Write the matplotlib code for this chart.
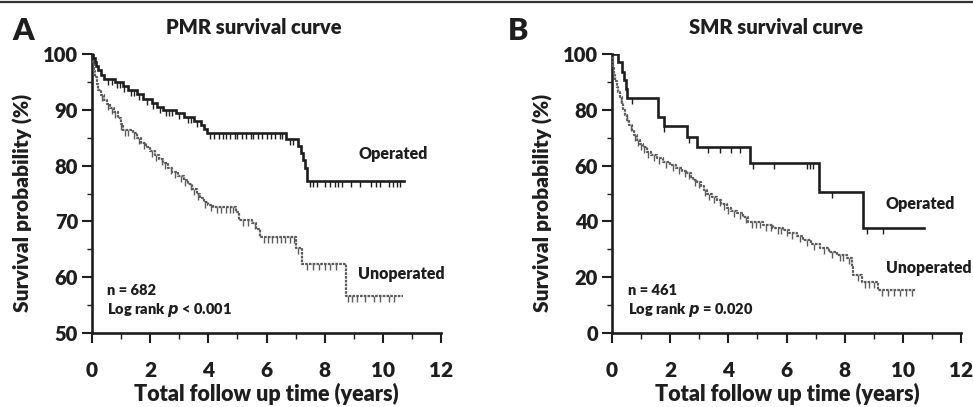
import numpy as np
import matplotlib
matplotlib.use("Agg")
import matplotlib.pyplot as plt
from matplotlib.lines import Line2D
from matplotlib.ticker import MultipleLocator

plt.rcParams['font.family'] = ['Lato', 'DejaVu Sans']
plt.rcParams['font.weight'] = 'bold'

# ---------------- Data ----------------
# Panel A: PMR
pmr_op_t = [0, 0.05, 0.10, 0.15, 0.22, 0.30, 0.40, 0.80, 1.05, 1.25, 1.55, 1.75, 2.05, 2.25, 2.45,
            2.90, 3.15, 3.50, 3.75, 3.85, 3.95, 6.67, 7.10, 7.20, 7.27, 7.32, 7.38, 10.73]
pmr_op_s = [100, 99.3, 98.6, 97.9, 97.1, 96.3, 95.5, 95.0, 94.3, 93.6, 92.8, 92.0, 91.2, 90.5, 90.0,
            89.4, 88.7, 88.0, 87.3, 86.6, 85.8, 84.7, 83.5, 82.2, 81.0, 79.5, 77.3, 77.3]
pmr_op_cens = [0.55, 0.7, 0.85, 0.95, 1.1, 1.35, 1.45, 1.6, 1.9, 2.1, 2.35, 2.55, 2.65, 2.75, 3.0, 3.3,
               3.4, 3.6, 4.05, 4.2, 4.35, 4.5, 4.6, 4.75, 4.9, 5.0, 5.15, 5.3, 5.45, 5.55, 5.7, 5.85,
               6.0, 6.15, 6.3, 6.45, 6.55, 6.8, 6.9, 7.5, 7.6, 7.75, 8.0, 8.2, 8.35, 8.45, 8.6, 8.9,
               9.2, 9.6, 9.75, 9.9, 10.2, 10.35, 10.5, 10.6]

pmr_un_t = [0, 0.03, 0.06, 0.10, 0.16, 0.22, 0.30, 0.40, 0.50, 0.62, 0.75, 0.88, 0.98, 1.08, 1.40,
            1.55, 1.70, 1.85, 2.00, 2.15, 2.30, 2.45, 2.60, 2.75, 2.95, 3.15, 3.30, 3.45, 3.60, 3.72,
            3.85, 4.00, 4.15, 4.95, 5.05, 5.50, 5.65, 5.78, 7.02, 7.22, 8.72, 10.68]
pmr_un_s = [100, 98.5, 97.0, 95.8, 94.6, 93.5, 92.6, 91.8, 91.1, 90.4, 89.6, 88.5, 87.4, 86.4, 85.8,
            85.0, 84.1, 83.3, 82.6, 81.9, 81.2, 80.4, 79.6, 78.8, 78.2, 77.4, 76.7, 75.8, 75.0, 74.2,
            73.5, 72.9, 72.6, 71.7, 70.3, 69.7, 68.6, 67.2, 65.3, 62.3, 56.6, 56.6]
pmr_un_cens = [0.35, 0.55, 0.7, 0.8, 1.0, 1.15, 1.25, 1.45, 1.6, 1.8, 2.05, 2.2, 2.4, 2.5, 2.7, 2.85,
               3.05, 3.2, 3.4, 3.5, 3.65, 3.9, 4.1, 4.3, 4.45, 4.6, 4.75, 4.85, 5.2, 5.35, 5.6, 5.9,
               6.05, 6.2, 6.35, 6.5, 6.65, 6.8, 6.95, 7.1, 7.4, 7.6, 7.8, 8.0, 8.2, 8.4, 8.8, 8.95,
               9.1, 9.4, 9.7, 9.9, 10.2, 10.4]

# Panel B: SMR
smr_op_t = [0, 0.20, 0.33, 0.41, 0.48, 0.53, 1.59, 1.79, 2.57, 2.91, 4.75, 7.13, 8.62, 10.73]
smr_op_s = [100, 97.0, 93.7, 90.7, 87.5, 84.1, 77.5, 74.2, 70.4, 66.6, 61.0, 50.6, 37.7, 37.7]
smr_op_cens = [0.7, 1.8, 2.65, 3.3, 3.7, 4.1, 4.4, 4.84, 5.57, 6.69, 6.81, 6.92, 7.58, 8.78, 9.31]

smr_un_t = [0, 0.02, 0.05, 0.08, 0.12, 0.17, 0.22, 0.28, 0.33, 0.39, 0.45, 0.52, 0.60, 0.68, 0.76,
            0.85, 0.95, 1.05, 1.19, 1.35, 1.54, 1.75, 1.99, 2.20, 2.40, 2.57, 2.70, 2.80, 2.91, 3.05,
            3.15, 3.26, 3.43, 3.60, 3.75, 3.94, 4.10, 4.29, 4.50, 4.69, 5.20, 5.55, 5.89, 6.10, 6.35,
            6.58, 6.85, 7.15, 7.45, 7.73, 8.07, 8.24, 8.30, 8.59, 9.16, 10.45]
smr_un_s = [100, 97.5, 95.0, 92.5, 90.5, 88.3, 86.4, 84.7, 82.3, 80.0, 78.3, 76.4, 74.5, 72.7, 70.9,
            69.2, 67.8, 66.5, 65.0, 63.8, 62.6, 61.4, 60.2, 59.0, 58.0, 57.2, 56.0, 55.0, 54.2, 52.8,
            51.4, 50.0, 48.8, 47.7, 46.2, 44.7, 43.8, 42.9, 41.4, 39.9, 38.7, 37.8, 36.9, 35.8, 34.6,
            33.3, 31.8, 30.4, 29.2, 28.0, 26.8, 23.8, 20.8, 18.4, 15.4, 15.4]
smr_un_cens = [0.3, 0.5, 0.65, 0.8, 0.9, 1.0, 1.1, 1.25, 1.45, 1.6, 1.85, 2.1, 2.3, 2.5, 2.65, 2.85,
               3.0, 3.2, 3.35, 3.5, 3.7, 3.85, 4.0, 4.2, 4.4, 4.6, 4.8, 4.95, 5.1, 5.3, 5.45, 5.7,
               5.8, 6.0, 6.2, 6.45, 6.7, 6.95, 7.3, 7.55, 7.85, 7.95, 8.15, 8.45, 8.7, 8.85, 9.0,
               9.3, 9.5, 9.7, 9.9, 10.1, 10.3]

x_ticks = [0, 2, 4, 6, 8, 10, 12]

DARK = '#1e1e1e'
GRAY = '#5c5c5c'
WEIGHT = 'heavy'

fig = plt.figure(figsize=(9.73, 4.07), dpi=100)

# top border line
fig.add_artist(Line2D([0, 1], [0.994, 0.994], transform=fig.transFigure, color='#333333', lw=1.6))


def surv_at(times, vals, t):
    idx = np.searchsorted(np.asarray(times), t, side='right') - 1
    return np.asarray(vals)[idx]


def draw_curve(ax, t, s, cens, color, ls, lw):
    ax.plot(t, s, drawstyle='steps-post', color=color, lw=lw, ls=ls, solid_joinstyle='miter',
            zorder=3)
    cy = [surv_at(t, s, c) for c in cens]
    ax.plot(cens, cy, ls='none', marker=3, markersize=4, mew=1.0, color=color, zorder=3)


def style_axes(ax, ylim, ymajor, yminor):
    ax.set_xlim(0, 12)
    ax.set_ylim(*ylim)
    ax.spines['top'].set_visible(False)
    ax.spines['right'].set_visible(False)
    for sp in ('left', 'bottom'):
        ax.spines[sp].set_linewidth(1.9)
        ax.spines[sp].set_color(DARK)
    ax.set_xticks(x_ticks)
    ax.xaxis.set_minor_locator(MultipleLocator(1))
    ax.yaxis.set_major_locator(MultipleLocator(ymajor))
    ax.yaxis.set_minor_locator(MultipleLocator(yminor))
    ax.tick_params(axis='x', which='major', length=7, width=1.5, color=DARK, pad=13,
                   labelsize=15, labelcolor=DARK)
    ax.tick_params(axis='x', which='minor', length=4, width=1.0, color=DARK)
    ax.tick_params(axis='y', which='major', length=7, width=1.5, color=DARK, pad=3,
                   labelsize=14.5, labelcolor=DARK)
    ax.tick_params(axis='y', which='minor', length=3.5, width=1.0, color=DARK)
    for lab in ax.get_xticklabels() + ax.get_yticklabels():
        lab.set_fontweight(WEIGHT)


W, H = 973.0, 407.0
axA = fig.add_axes([92 / W, 1 - 333 / H, 349 / W, 279 / H])
axB = fig.add_axes([612 / W, 1 - 333 / H, 349 / W, 279 / H])

# Panel A
draw_curve(axA, pmr_un_t, pmr_un_s, pmr_un_cens, GRAY, (0, (1.2, 0.5)), 1.6)
draw_curve(axA, pmr_op_t, pmr_op_s, pmr_op_cens, DARK, '-', 1.9)
style_axes(axA, (50, 100), 10, 5)
axA.text(9.15, 82.1, 'Operated', fontsize=11.5, fontweight=WEIGHT, color=DARK, va='center', ha='left')
axA.text(9.15, 60.6, 'Unoperated', fontsize=11.5, fontweight=WEIGHT, color=DARK, va='center', ha='left')
axA.text(0.5, 57.7, 'n = 682', fontsize=10.5, fontweight=WEIGHT, color=DARK, va='center', ha='left')
axA.text(0.5, 54.1, 'Log rank $\\boldsymbol{p}$ < 0.001', fontsize=10.5, fontweight=WEIGHT, color=DARK,
         va='center', ha='left')

# Panel B
draw_curve(axB, smr_un_t, smr_un_s, smr_un_cens, GRAY, (0, (1.2, 0.5)), 1.6)
draw_curve(axB, smr_op_t, smr_op_s, smr_op_cens, DARK, '-', 1.9)
style_axes(axB, (0, 100), 20, 10)
axB.text(9.42, 46.2, 'Operated', fontsize=11.5, fontweight=WEIGHT, color=DARK, va='center', ha='left')
axB.text(9.42, 23.2, 'Unoperated', fontsize=11.3, fontweight=WEIGHT, color=DARK, va='center', ha='left')
axB.text(0.54, 15.4, 'n = 461', fontsize=10.5, fontweight=WEIGHT, color=DARK, va='center', ha='left')
axB.text(0.54, 8.2, 'Log rank $\\boldsymbol{p}$ = 0.020', fontsize=10.5, fontweight=WEIGHT, color=DARK,
         va='center', ha='left')

# titles, panel letters, axis labels
fig.text(254 / W, 1 - 28 / H, 'PMR survival curve', fontsize=14.5, fontweight=WEIGHT, color=DARK,
         ha='center', va='center')
fig.text(776 / W, 1 - 28 / H, 'SMR survival curve', fontsize=14.5, fontweight=WEIGHT, color=DARK,
         ha='center', va='center')
fig.text(12 / W, 1 - 31 / H, 'A', fontsize=22, fontweight=WEIGHT, color=DARK, ha='left', va='center')
fig.text(508 / W, 1 - 31 / H, 'B', fontsize=22, fontweight=WEIGHT, color=DARK, ha='left', va='center')
fig.text(23 / W, 1 - 203 / H, 'Survival probability (%)', fontsize=15, fontweight=WEIGHT, color=DARK,
         ha='center', va='center', rotation=90)
fig.text(543 / W, 1 - 203 / H, 'Survival probability (%)', fontsize=15, fontweight=WEIGHT, color=DARK,
         ha='center', va='center', rotation=90)
fig.text(266 / W, 2 / H, 'Total follow up time (years)', fontsize=15.5, fontweight=WEIGHT,
         color=DARK, ha='center', va='bottom')
fig.text(787 / W, 2 / H, 'Total follow up time (years)', fontsize=15.5, fontweight=WEIGHT,
         color=DARK, ha='center', va='bottom')

fig.savefig('out.png', dpi=100)
